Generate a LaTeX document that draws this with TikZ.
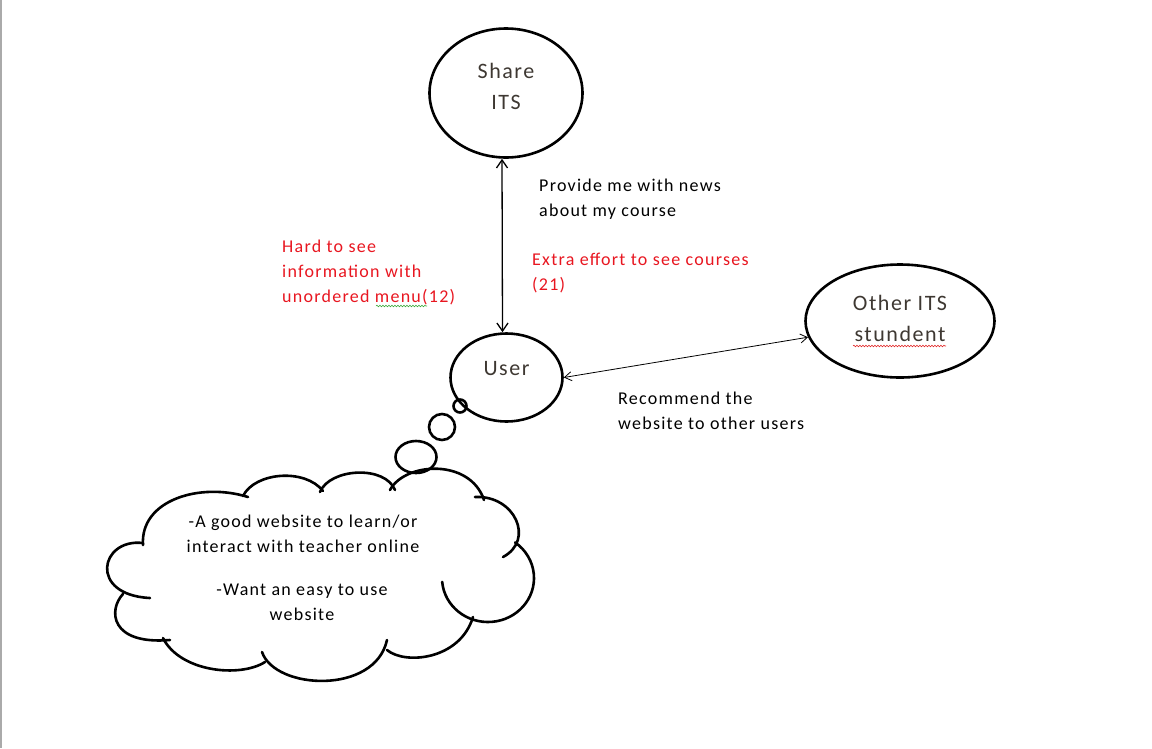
\documentclass[tikz,border=0pt]{standalone}
\usepackage{fontspec}
\setmainfont{Carlito}
\newfontfamily\lblfont[LetterSpace=7]{Carlito}
\usetikzlibrary{arrows.meta,shapes.geometric,decorations.pathmorphing}
\definecolor{lblgray}{RGB}{62,56,50}
\definecolor{wordred}{RGB}{232,22,32}
\definecolor{squigreen}{RGB}{60,170,60}
\definecolor{squired}{RGB}{225,40,40}
\definecolor{framegray}{RGB}{170,170,170}
\begin{document}
\begin{tikzpicture}[x=1pt,y=-1pt,
  oval/.style={draw=black, line width=2.6pt, ellipse, inner sep=0pt, align=center, text=lblgray, font=\lblfont\fontsize{22}{31}\selectfont},
  note/.style={inner sep=0pt, align=left, anchor=base west, font=\lblfont\fontsize{18}{25}\selectfont},
  rednote/.style={note, text=wordred},
  twoway/.style={{Straight Barb[length=8pt,width=11pt]}-{Straight Barb[length=8pt,width=11pt]}},
  thinway/.style={{Straight Barb[length=7pt,width=9pt]}-{Straight Barb[length=7pt,width=9pt]}},
  bubble/.style={draw=black, line width=2.6pt},
  lobe/.style={draw=black, line width=2.6pt, line cap=round},
  squiggle/.style={decorate, decoration={snake, segment length=3pt, amplitude=0.8pt}, line width=0.6pt}
]
\useasboundingbox (0,0) rectangle (1152,748);
\draw[framegray, line width=1.5pt] (0.75,0) -- (0.75,748);

% main ellipses
\node[oval, minimum width=153pt, minimum height=129pt, text depth=14pt] (share) at (506,93) {Share\\ITS};
\node[oval, minimum width=112pt, minimum height=88pt, text height=14pt, text depth=19pt] (user) at (506.5,377.5) {User};
\node[oval, minimum width=189pt, minimum height=113pt, text depth=6pt] (other) at (900,321) {Other ITS\\stundent};

% connectors
\draw[twoway, line width=1.3pt] ([xshift=-4pt]share.south) -- ([xshift=-4pt]user.north);
\draw[thinway, line width=0.8pt] (user.east) -- (other.190);

% labels (anchored at the baseline of their last line)
\node[note] (t1) at (539,216) {Provide me with news\\about my course};
\node[rednote] (t2) at (532,290) {Extra effort to see courses\\(21)};
\node[rednote] (t3) at (282,302) {Hard to see\\information with\\unordered menu(12)};
\node[note] (t4) at (618,429) {Recommend the\\website to other users};

% spell-check squiggles
\draw[squiggle, squigreen] (376,306) -- (427,306);
\draw[squiggle, squired] (853,346) -- (946,346);

% thought bubbles
\draw[bubble] (460,406) circle[radius=6.5pt];
\draw[bubble] (442,427) circle[radius=13pt];
\draw[bubble] (416,457) ellipse[x radius=20.5pt, y radius=16pt];

% cloud
\draw[lobe] (143,543) .. controls (100,538) and (88,595) .. (150,598);
\draw[lobe] (123,594) .. controls (108,610) and (110,645) .. (170,640);
\draw[lobe] (163,638) .. controls (180,672) and (240,678) .. (265,662);
\draw[lobe] (262,652) .. controls (275,690) and (375,695) .. (387,640);
\draw[lobe] (387,650) .. controls (405,665) and (460,660) .. (473,617);
\draw[lobe] ([shift={(185:46pt and 44pt)}]488,578) arc[start angle=185, end angle=414, x radius=46pt, y radius=44pt];
\draw[lobe] (475,497) .. controls (515,495) and (535,540) .. (503,557);
\draw[lobe] (390,490) .. controls (405,462) and (470,458) .. (484,500);
\draw[lobe] (320,492) .. controls (330,468) and (385,465) .. (395,490);
\draw[lobe] (243,496) .. controls (255,472) and (305,468) .. (323,491);
\draw[lobe] (143,545) .. controls (140,500) and (200,482) .. (248,497);

\node[note, align=center, anchor=base] (c1) at (303,552) {-A good website to learn/or\\interact with teacher online};
\node[note, align=center, anchor=base] (c2) at (302,620) {-Want an easy to use\\website};
\end{tikzpicture}
\end{document}
